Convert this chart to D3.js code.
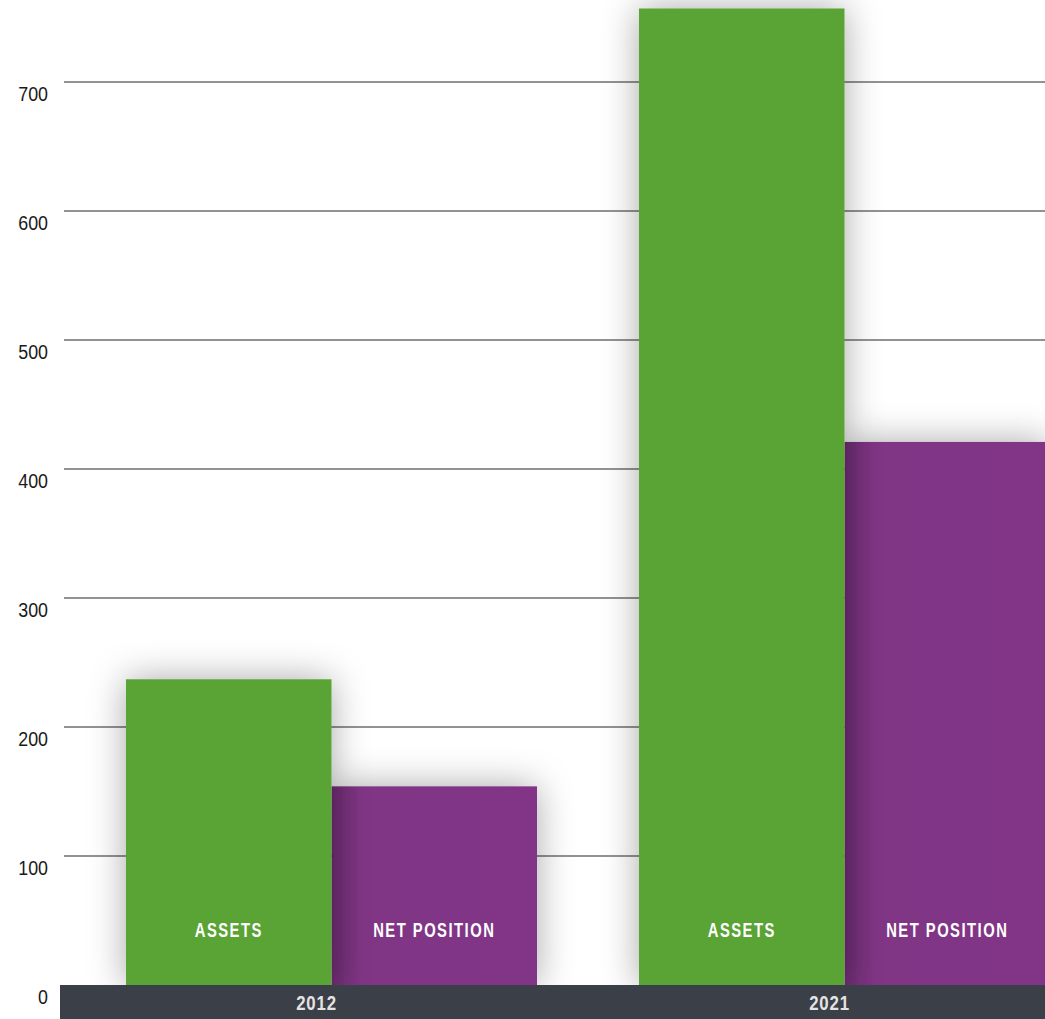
<!DOCTYPE html>
<html>
<head>
<meta charset="utf-8">
<script src="https://cdn.jsdelivr.net/npm/d3@7"></script>
<style>
  html, body { margin: 0; padding: 0; background: #fff; overflow: hidden; }
  svg { display: block; }
</style>
</head>
<body>
<svg id="chart" width="1045" height="1019"></svg>
<script>
const years = ["2012", "2021"];
const seriesNames = ["ASSETS", "NET POSITION"];
const assets = [237, 757];
const netPosition = [154, 421];
const tickValues = [0, 100, 200, 300, 400, 500, 600, 700];

const svg = d3.select("#chart");
const W = 1045, H = 1019;
const font = "'Liberation Sans', Arial, sans-serif";

const y = d3.scaleLinear().domain([0, 700]).range([985, 82]);
const x0 = d3.scaleBand().domain(years).range([60, 1086]);
const x1 = d3.scaleBand().domain(seriesNames).range([66, 477]);
const color = d3.scaleOrdinal().domain(seriesNames).range(["#5aa335", "#803585"]);

const defs = svg.append("defs");
const f = defs.append("filter").attr("id", "shadow")
  .attr("x", "-50%").attr("y", "-50%").attr("width", "200%").attr("height", "200%");
f.append("feDropShadow").attr("dx", 0).attr("dy", 0)
  .attr("stdDeviation", 18).attr("flood-color", "#000").attr("flood-opacity", 0.34);

const pg = defs.append("linearGradient").attr("id", "purpleGrad")
  .attr("x1", "0").attr("x2", "1").attr("y1", "0").attr("y2", "0");
pg.append("stop").attr("offset", "0%").attr("stop-color", "#6d2c72");
pg.append("stop").attr("offset", "15%").attr("stop-color", "#803585");
pg.append("stop").attr("offset", "100%").attr("stop-color", "#823687");

// gridlines
svg.append("g").selectAll("line")
  .data(tickValues.filter(d => d > 0))
  .join("line")
  .attr("x1", 64).attr("x2", W)
  .attr("y1", d => y(d)).attr("y2", d => y(d))
  .attr("stroke", "#6e6e6e").attr("stroke-width", 1.5);

// y labels
svg.append("g").selectAll("g")
  .data(tickValues)
  .join("g")
  .attr("transform", d => `translate(48,${y(d) + 19}) scale(0.85,1)`)
  .append("text")
  .attr("text-anchor", "end")
  .attr("font-family", font)
  .attr("font-size", 21)
  .attr("fill", "#1a1a1a")
  .text(d => d);

// bars
const rows = years.map((yr, i) => [
  { year: yr, key: seriesNames[0], value: assets[i] },
  { year: yr, key: seriesNames[1], value: netPosition[i] }
]);

const groups = svg.append("g").selectAll("g")
  .data(rows)
  .join("g")
  .attr("transform", d => `translate(${x0(d[0].year)},0)`);

groups.each(function(d) {
  const g = d3.select(this);
  const order = [d[1], d[0]];
  g.selectAll("rect.bar")
    .data(order)
    .join("rect")
    .attr("class", "bar")
    .attr("x", e => x1(e.key))
    .attr("width", x1.bandwidth())
    .attr("y", e => y(e.value))
    .attr("height", e => y(0) - y(e.value) + 2)
    .attr("fill", e => e.key === "NET POSITION" ? "url(#purpleGrad)" : color(e.key))
    .attr("filter", "url(#shadow)");
  g.selectAll("g.lab")
    .data(d)
    .join("g")
    .attr("class", "lab")
    .attr("transform", e => `translate(${x1(e.key) + x1.bandwidth() / 2},937) scale(0.74,1)`)
    .append("text")
    .attr("text-anchor", "middle")
    .attr("font-family", font)
    .attr("font-weight", "bold")
    .attr("font-size", 20)
    .attr("letter-spacing", 2)
    .attr("fill", "#ffffff")
    .text(e => e.key);
});

// axis band
svg.append("rect")
  .attr("x", 60).attr("y", y(0))
  .attr("width", W - 60).attr("height", H - y(0))
  .attr("fill", "#3b3f47");

svg.append("g").selectAll("g")
  .data(years)
  .join("g")
  .attr("transform", d => `translate(${x0(d) + x0.bandwidth() / 2},1010) scale(0.8,1)`)
  .append("text")
  .attr("text-anchor", "middle")
  .attr("font-family", font)
  .attr("font-weight", "bold")
  .attr("font-size", 21)
  .attr("letter-spacing", 1)
  .attr("fill", "#e4e4e4")
  .text(d => d);
</script>
</body>
</html>
